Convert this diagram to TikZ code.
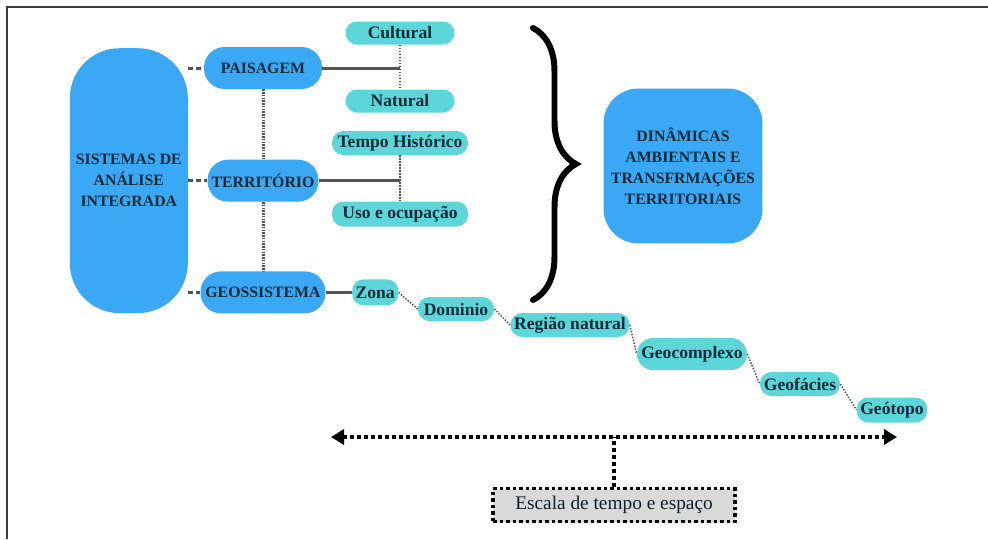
\documentclass[tikz,border=0pt]{standalone}
\usepackage{fontspec}
\setmainfont{Liberation Serif}
\usetikzlibrary{arrows.meta, positioning, decorations.pathreplacing, backgrounds}
\definecolor{skyblue}{HTML}{3AA8F4}
\definecolor{aqua}{HTML}{5DD6DA}
\definecolor{inkblue}{HTML}{0E2A38}
\definecolor{linegray}{HTML}{555555}
\definecolor{framegray}{HTML}{3C3C3C}
\tikzset{
  bigbox/.style={rectangle,fill=skyblue,text=inkblue,align=center,inner sep=2pt,
    font=\bfseries\fontsize{9}{12}\selectfont},
  concept/.style={bigbox,rounded corners=4.1mm,minimum height=8.4mm},
  tag/.style={rectangle,fill=aqua,text=inkblue,rounded corners=2.3mm,inner sep=2pt,
    font=\bfseries\fontsize{10}{11}\selectfont,minimum height=4.8mm},
  dashlink/.style={draw=linegray,line width=0.6mm,dash pattern=on 1mm off 0.6mm},
  dotlink/.style={draw=linegray,line width=0.6mm,dash pattern=on 0.3mm off 0.25mm},
  barlink/.style={draw=linegray,line width=0.6mm},
  thinlink/.style={draw=linegray,line width=0.3mm,dash pattern=on 0.3mm off 0.3mm},
  scalelink/.style={draw=black,line width=0.8mm,dash pattern=on 0.8mm off 0.6mm}
}

\begin{document}
\begin{tikzpicture}[x=0.02cm,y=-0.02cm]
\useasboundingbox (0,0) rectangle (988,539);
\draw[framegray,line width=0.4mm] (7,539) -- (7,6.5) -- (988,6.5);

% main column
\node[concept, minimum width=23.6mm] (pais) at (263,68) {PAISAGEM};
\node[concept, minimum width=22.2mm, below=14mm of pais] (terr) {TERRITÓRIO};
\node[concept, minimum width=25mm, below=13.8mm of terr] (geos) {GEOSSISTEMA};
\node[bigbox, minimum width=23.6mm, minimum height=53mm, rounded corners=10mm,
  left=3.8mm of terr] (sist) {SISTEMAS DE\\ANÁLISE\\INTEGRADA};
\node[bigbox, minimum width=31.8mm, minimum height=31mm, rounded corners=7mm]
  (dinam) at (683,166) {DINÂMICAS\\AMBIENTAIS E\\TRANSFRMAÇÕES\\TERRITORIAIS};

% branches
\node[tag, minimum width=21.8mm, minimum height=4.6mm] (cult) at (400,33) {Cultural};
\node[tag, minimum width=21.8mm, minimum height=4.6mm] (nat) at (400,101) {Natural};
\node[tag, minimum width=27.2mm] (tempo) at (400,143) {Tempo Histórico};
\node[tag, minimum width=27.2mm, minimum height=5mm] (uso) at (400,214) {Uso e ocupação};

% scale chain
\node[tag, minimum width=9mm, minimum height=5.2mm, right=5.2mm of geos] (zona) {Zona};
\node[tag, minimum width=15.2mm] (dom) at (456,309) {Dominio};
\node[tag, minimum width=23mm] (reg) at (570,325) {Região natural};
\node[tag, minimum width=22mm, minimum height=6.4mm, rounded corners=3.2mm] (geoc) at (692,354) {Geocomplexo};
\node[tag, minimum width=16mm] (geof) at (800,384) {Geofácies};
\node[tag, minimum width=13.8mm, minimum height=5mm] (geot) at (892,410) {Geótopo};

\node[rectangle, fill=black!15, draw=black, line width=0.7mm, dash pattern=on 0.7mm off 0.6mm,
  minimum width=48.4mm, minimum height=6.6mm, text=inkblue!80!black,
  font=\fontsize{11}{12}\selectfont] (escala) at (614,505) {Escala de tempo e espaço};

\coordinate (scaleL) at (331,437);
\coordinate (scaleR) at (897,437);

\begin{scope}[on background layer]
\draw[dashlink] (sist.east |- pais) -- (pais);
\draw[dashlink] (sist.east |- terr) -- (terr);
\draw[dashlink] (sist.east |- geos) -- (geos);
\draw[dotlink] (pais) -- (terr);
\draw[dotlink] (terr) -- (geos);
\draw[barlink] (pais) -- (pais -| cult);
\draw[thinlink] (cult) -- (nat);
\draw[barlink] (terr) -- (terr -| tempo);
\draw[thinlink] (tempo) -- (uso);
\draw[barlink] (geos) -- (zona);
\draw[thinlink] (zona.east) -- (dom.west);
\draw[thinlink] (dom.east) -- (reg.west);
\draw[thinlink] (reg.east) -- (geoc.west);
\draw[thinlink] (geoc.east) -- (geof.west);
\draw[thinlink] (geof.east) -- (geot.west);
\end{scope}

\draw[scalelink, {Triangle[length=2.6mm,width=3mm]}-{Triangle[length=2.6mm,width=3mm]}]
  (scaleL) -- (scaleR);
\draw[scalelink] (escala.north) -- (escala.north |- scaleL);

% brace
\draw[line width=1.2mm, line cap=round, decorate, decoration={brace, amplitude=8.6mm}]
  (533,28) -- (533,300);
\end{tikzpicture}
\end{document}
